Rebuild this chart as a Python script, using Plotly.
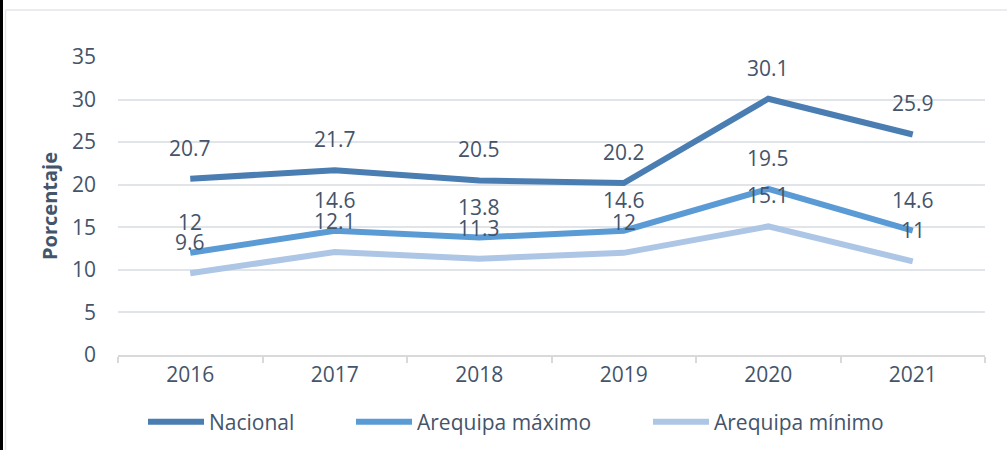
import plotly.graph_objects as go

years = ["2016", "2017", "2018", "2019", "2020", "2021"]
nacional = [20.7, 21.7, 20.5, 20.2, 30.1, 25.9]
aqp_max = [12, 14.6, 13.8, 14.6, 19.5, 14.6]
aqp_min = [9.6, 12.1, 11.3, 12, 15.1, 11]

series = [
    ("Nacional", nacional, "#4A7DB1", "legend", 143),
    ("Arequipa máximo", aqp_max, "#5B9BD5", "legend2", 351),
    ("Arequipa mínimo", aqp_min, "#ADC6E6", "legend3", 648),
]

FONT = "Open Sans"
TXT = "#44546A"
FS = 21
PL, PR, PT, PB = 118, 22, 57, 95
PW, PH = 1007 - PL - PR, 450 - PT - PB

fig = go.Figure()
annotations = []
legends = {}
for name, vals, color, lg, lx in series:
    fig.add_trace(go.Scatter(
        x=years, y=vals, name=name, mode="lines",
        line=dict(color=color, width=6), legend=lg,
    ))
    for i, v in enumerate(vals):
        annotations.append(dict(
            x=i, y=v, xref="x", yref="y", text=f"{v:g}", showarrow=False,
            yshift=31, font=dict(family=FONT, size=FS, color=TXT),
        ))
    legends[lg] = dict(
        orientation="h", x=(lx - PL) / PW, xanchor="left",
        y=(PH - (422 - PT)) / PH, yanchor="middle",
        font=dict(family=FONT, size=FS, color=TXT), itemwidth=56,
        bgcolor="rgba(0,0,0,0)",
    )

fig.update_layout(
    width=1007, height=450,
    margin=dict(l=PL, r=PR, t=PT, b=PB, autoexpand=False),
    paper_bgcolor="white", plot_bgcolor="white",
    font=dict(family=FONT, size=FS, color=TXT),
    showlegend=True,
    annotations=annotations,
    shapes=[
        dict(type="line", xref="paper", yref="paper", x0=-116.5/PW, x1=-116.5/PW,
             y0=-PB/PH, y1=1 + PT/PH, line=dict(color="black", width=3)),
        dict(type="line", xref="paper", yref="paper", x0=-112.5/PW, x1=-112.5/PW,
             y0=-PB/PH, y1=1 + 47/PH, line=dict(color="#E3E6EA", width=1.5)),
        dict(type="line", xref="paper", yref="paper", x0=-112.5/PW, x1=1 + PR/PW,
             y0=1 + 47/PH, y1=1 + 47/PH, line=dict(color="#E3E6EA", width=1.5)),
    ],
    **legends,
)

fig.update_xaxes(
    type="category", showgrid=False, showline=True, linecolor="#D9D9D9", linewidth=1.5,
    ticks="outside", tickson="boundaries", ticklen=6, tickcolor="#D9D9D9", tickwidth=1.5,
    tickfont=dict(family=FONT, size=FS, color=TXT), range=[-0.5, 5.5],
)
fig.update_yaxes(
    range=[0, 35], dtick=5, showgrid=True, gridcolor="#E1E4E8", gridwidth=1.5,
    zeroline=False, showline=False, ticks="", ticklabelstandoff=21,
    tickfont=dict(family=FONT, size=FS, color=TXT),
    title=dict(text="<b>Porcentaje</b>", font=dict(family=FONT, size=20, color=TXT), standoff=8),
)

fig.write_html("out.html", config={"displayModeBar": False},
               post_script="document.body.style.margin='0';")
